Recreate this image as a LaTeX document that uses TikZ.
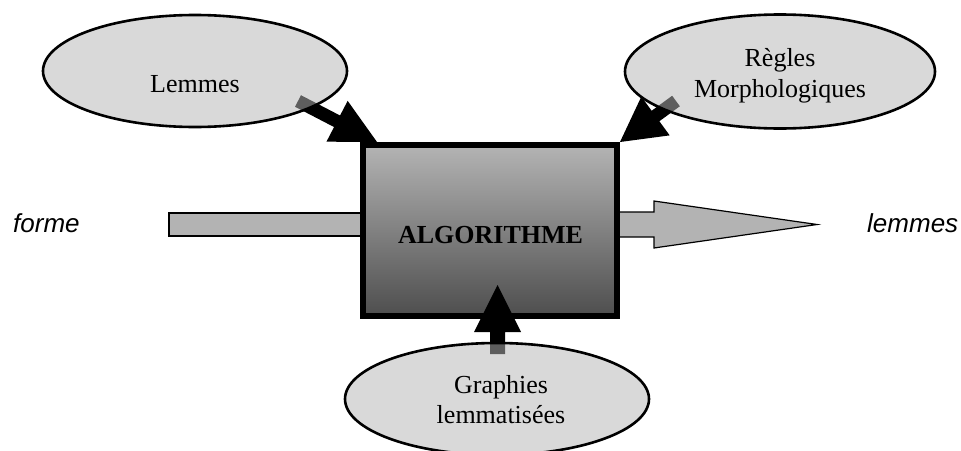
\documentclass[tikz,border=0pt]{standalone}
\usepackage{fontspec}
\setmainfont{Liberation Serif}
\newfontfamily\arialfont{Liberation Sans}
\usetikzlibrary{calc}
\definecolor{ellfill}{RGB}{182,182,182}
\definecolor{flowgrey}{RGB}{179,179,179}
\definecolor{boxtop}{RGB}{180,180,180}
\definecolor{boxbot}{RGB}{78,78,78}
\newcommand\fatarrow[5]{%
  \path ($(#2)!#5!(#1)$) coordinate (fab);
  \fill[black] ($(#1)!#3!90:(#2)$) -- ($(fab)!#3!-90:(#1)$) -- ($(fab)!#4!-90:(#1)$) -- (#2)
    -- ($(fab)!#4!90:(#1)$) -- ($(fab)!#3!90:(#1)$) -- ($(#1)!#3!-90:(#2)$) -- cycle;
}
\tikzset{
  bubble/.style={draw=black, line width=2.6pt, fill=ellfill, fill opacity=0.52, draw opacity=1},
  flow/.style={draw=black, line width=1.2pt, fill=flowgrey},
  lbl/.style={font=\fontsize{26}{31}\selectfont, anchor=base, inner sep=0pt},
  side/.style={font=\arialfont\itshape\fontsize{26}{31}\selectfont, anchor=base west, inner sep=0pt}
}
\begin{document}
\begin{tikzpicture}[x=1pt,y=-1pt]
\useasboundingbox (0,0) rectangle (961,450);
\clip (0,0) rectangle (961,450);
% input bar
\draw[flow] (169,213) rectangle (362,236);
% output arrow
\draw[flow] (617,212) -- (654,212) -- (654,201) -- (817,224.5) -- (654,248) -- (654,237) -- (617,237) -- cycle;
% box
\shade[top color=boxtop, bottom color=boxbot] (363,144.5) rectangle (617,316);
\draw[line width=6pt] (363,144.5) rectangle (617,316);
\coordinate (box) at (490,230);
\node[lbl, font=\bfseries\fontsize{26}{31}\selectfont] (algo) at (490.5,243) {ALGORITHME};
% arrows
\coordinate (lemS) at (298,101);
\coordinate (lemT) at (377,142);
\fatarrow{lemS}{lemT}{6.5pt}{23pt}{45pt}
\coordinate (regS) at (676,101);
\coordinate (regT) at (620,142);
\fatarrow{regS}{regT}{6.5pt}{24pt}{44pt}
\coordinate (graS) at (497.5,354);
\coordinate (graT) at (497.5,285);
\fatarrow{graS}{graT}{7.5pt}{23.5pt}{47pt}
% ellipses
\draw[bubble] (195,71) ellipse [x radius=152, y radius=56];
\draw[bubble] (780,71.5) ellipse [x radius=155, y radius=57];
\draw[bubble] (497,399) ellipse [x radius=152, y radius=56];
% labels
\node[lbl] (lemmes) at (195,92) {Lemmes};
\node[lbl] (regles) at (780,66) {Règles};
\node[lbl] (morph) at (780,97) {Morphologiques};
\node[lbl] (graph) at (501,393) {Graphies};
\node[lbl] (lemm) at (501,423) {lemmatisées};
\node[side] (forme) at (13,232) {forme};
\node[side] (lemout) at (867,232) {lemmes};
\end{tikzpicture}
\end{document}
